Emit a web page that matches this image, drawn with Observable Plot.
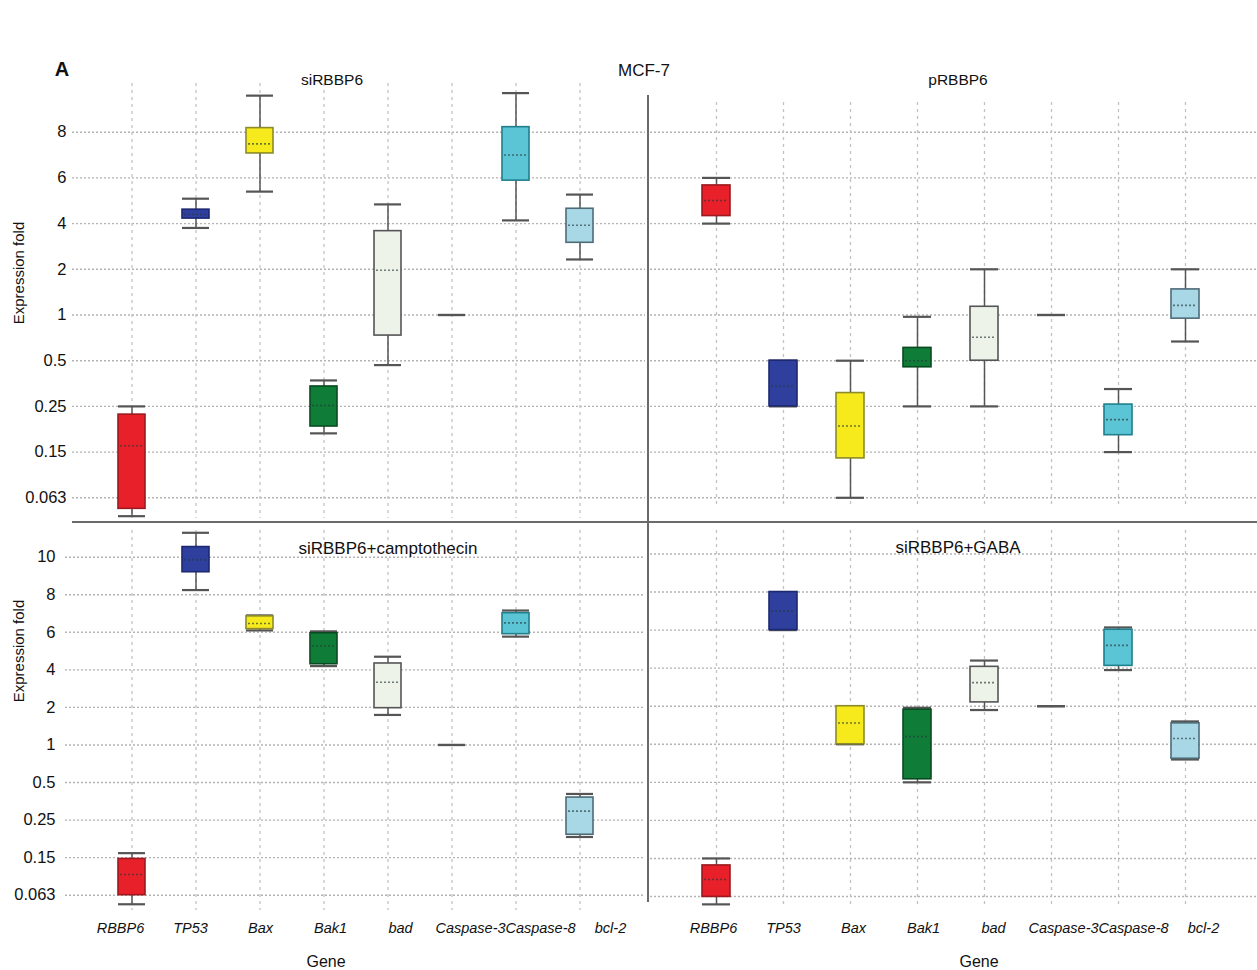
<!DOCTYPE html>
<html><head><meta charset="utf-8">
<script src="https://cdn.jsdelivr.net/npm/d3@7"></script>
<script src="https://cdn.jsdelivr.net/npm/@observablehq/plot@0.6"></script>
<style>
body{margin:0;background:#fff;font-family:"Liberation Sans",Arial,sans-serif;}
#root{position:relative;width:1257px;height:970px;overflow:hidden;background:#fff;}
.lbl{position:absolute;transform:translate(-50%,-50%);white-space:nowrap;color:#111;line-height:1;}
.line{position:absolute;background:#6a6a6a;}
svg{position:absolute;overflow:visible;}
</style></head><body><div id="root"></div>
<script>
// ---------- data ----------
const genes = ["RBBP6","TP53","Bax","Bak1","bad","Caspase-3","Caspase-8","bcl-2"];
const geneFill   = ["#e8202a","#2e3f9e","#f6ea1c","#0f7d38","#eef3ea","#555555","#5cc5d5","#a8d7e6"];
const geneStroke = ["#9c1a1f","#1c2870","#8c8a2a","#0a4a22","#555555","#555555","#1f7f8c","#4e6c78"];
const topTicks    = [0.063,0.15,0.25,0.5,1,2,4,6,8];
const bottomTicks = [0.063,0.15,0.25,0.5,1,2,4,6,8,10];
const topTickLabels    = ["0.063","0.15","0.25","0.5","1","2","4","6","8"];
const bottomTickLabels = ["0.063","0.15","0.25","0.5","1","2","4","6","8","10"];
// [min, q1, median, q3, max] for each gene
const siRBBP6 = [
  [0.028,0.042,0.164,0.232,0.25],
  [3.81,4.22,4.4,4.61,5.09],
  [5.40,7.07,7.49,8.18,9.6],
  [0.191,0.206,0.255,0.359,0.392],
  [0.476,0.775,1.98,3.67,4.84],
  [1,1,1,1,1],
  [4.14,5.88,7.0,8.22,9.71],
  [2.43,3.16,3.93,4.65,5.27]
];
const pRBBP6 = [
  [4,4.33,5.01,5.67,6],
  [0.25,0.25,0.36,0.5,0.5],
  [0.063,0.138,0.207,0.323,0.5],
  [0.25,0.464,0.5,0.64,0.98],
  [0.25,0.5,0.757,1.18,2],
  [1,1,1,1,1],
  [0.15,0.187,0.221,0.26,0.345],
  [0.71,0.96,1.21,1.56,2]
];
const siCampto = [
  [0.042,0.063,0.111,0.147,0.162],
  [8.25,9.2,9.86,10.54,11.3],
  [6.1,6.17,6.47,6.85,6.9],
  [4.2,4.3,5.27,5.95,6.05],
  [1.8,1.98,3.34,4.34,4.7],
  [1,1,1,1,1],
  [5.77,5.9,6.5,7.02,7.16],
  [0.205,0.211,0.31,0.40,0.424]
];
const siGABA = [
  [0.045,0.062,0.102,0.134,0.15],
  [6,6,7,8,8],
  [1,1,1.56,2,2],
  [0.5,0.54,1.2,1.91,1.96],
  [1.9,2.2,3.24,4.07,4.4],
  [2,2,2,2,2],
  [3.9,4.12,5.2,6.02,6.14],
  [0.8,0.81,1.15,1.55,1.6]
];

// ---------- drawing ----------
const root = document.getElementById("root");
const FONT = '"Liberation Sans", Arial, sans-serif';
const fillOf = g => geneFill[genes.indexOf(g)];
const strokeOf = g => geneStroke[genes.indexOf(g)];
function rows(stats){
  return genes.map((g,i)=>({gene:g,min:stats[i][0],q1:stats[i][1],med:stats[i][2],q3:stats[i][3],max:stats[i][4]}));
}
function place(svg,left,top){ svg.style.left=left+"px"; svg.style.top=top+"px"; root.appendChild(svg); }

function panel(o){
  const data = rows(o.stats);
  const n = genes.length, p = 1 - o.bw/o.step;
  const r0 = o.c0 - o.step*(1+p)/2, r1 = r0 + o.step*(n+p);
  const yRange = o.ticks.map((_,i)=> o.yLow + (o.yHigh-o.yLow)*i/(o.ticks.length-1));
  const marks = [
    Plot.ruleY(o.ticks, {stroke:"#b3b3b3", strokeDasharray:"2,2", strokeWidth:1.4}),
    Plot.ruleX(genes, {stroke:"#c2c2c2", strokeDasharray:"3,4", strokeWidth:1.3}),
    Plot.ruleX(data, {x:"gene", y1:"min", y2:"max", stroke:"#555", strokeWidth:1.5}),
    Plot.tickY(data, {x:"gene", y:"min", stroke:"#555", strokeWidth:2.2}),
    Plot.tickY(data, {x:"gene", y:"max", stroke:"#555", strokeWidth:2.2}),
    Plot.barY(data, {x:"gene", y1:"q1", y2:"q3", fill:d=>fillOf(d.gene), stroke:d=>strokeOf(d.gene), strokeWidth:1.6}),
    Plot.tickY(data.filter(d=>d.q3>d.q1), {x:"gene", y:"med", stroke:"#263a3a", strokeOpacity:0.65, strokeDasharray:"2,2", strokeWidth:1.6, inset:2})
  ];
  if (o.labels) marks.push(Plot.text(o.ticks, {y:d=>d, text:(d,i)=>o.labels[i], frameAnchor:"left", textAnchor:"end", dx:o.labelDx, fontSize:16.5, fill:"#111"}));
  const svg = Plot.plot({
    width:o.width, height:o.height,
    marginTop:o.mt, marginBottom:o.mb, marginLeft:o.ml, marginRight:o.mr,
    x:{type:"band", domain:genes, range:[r0,r1], paddingInner:p, paddingOuter:p, align:0.5, axis:null},
    y:{type:"linear", domain:o.ticks, range:yRange, axis:null},
    color:{type:"identity"},
    style:{fontFamily:FONT, background:"transparent", overflow:"visible"},
    marks
  });
  place(svg,o.left,o.top);
}

function geneStrip(left, top, width, x0, x1){
  const svg = Plot.plot({
    width, height:32, margin:0,
    x:{type:"point", domain:genes, range:[x0,x1], padding:0, axis:null},
    style:{fontFamily:FONT, background:"transparent", overflow:"visible"},
    marks:[Plot.text(genes,{x:d=>d, text:d=>d, frameAnchor:"middle", fontStyle:"italic", fontSize:14.5, fill:"#111"})]
  });
  place(svg,left,top);
}

panel({stats:siRBBP6, ticks:topTicks, labels:topTickLabels, labelDx:-6,
  left:0, top:82, width:648, height:440, mt:1, mb:4, ml:72, mr:3,
  yLow:415.3, yHigh:49.7, c0:129, step:64.7, bw:27});
panel({stats:pRBBP6, ticks:topTicks, labels:null,
  left:648, top:82, width:609, height:440, mt:20, mb:17, ml:2, mr:0,
  yLow:415.3, yHigh:49.7, c0:65, step:67.9, bw:28});
panel({stats:siCampto, ticks:bottomTicks, labels:bottomTickLabels, labelDx:-10,
  left:0, top:522, width:648, height:392, mt:8, mb:4, ml:65, mr:3,
  yLow:372.7, yHigh:34.7, c0:129, step:64.7, bw:27});
panel({stats:siGABA, ticks:bottomTicks, labels:null,
  left:648, top:522, width:609, height:392, mt:8, mb:6, ml:2, mr:0,
  yLow:374, yHigh:31.5, c0:65, step:67.9, bw:28});

geneStrip(0, 912, 648, 118, 612);
geneStrip(648, 912, 609, 63, 557);

function line(x,y,w,h){ const d=document.createElement("div"); d.className="line"; Object.assign(d.style,{left:x+"px",top:y+"px",width:w+"px",height:h+"px"}); root.appendChild(d); }
line(72,521,1185,1.6);
line(647,95,1.6,807);

function label(t,x,y,size,extra){ const d=document.createElement("div"); d.className="lbl"; d.textContent=t; Object.assign(d.style,{left:x+"px",top:y+"px",fontSize:size+"px"},extra||{}); root.appendChild(d); }
label("A",62,69,20,{fontWeight:"bold"});
label("MCF-7",644,70,17);
label("siRBBP6",332,80,15.5);
label("pRBBP6",958,80,15.5);
label("siRBBP6+camptothecin",388,548,17);
label("siRBBP6+GABA",958,547,17);
label("Expression fold",18,273,15,{transform:"translate(-50%,-50%) rotate(-90deg)"});
label("Expression fold",18,651,15,{transform:"translate(-50%,-50%) rotate(-90deg)"});
label("Gene",326,962,16);
label("Gene",979,962,16);
</script></body></html>
